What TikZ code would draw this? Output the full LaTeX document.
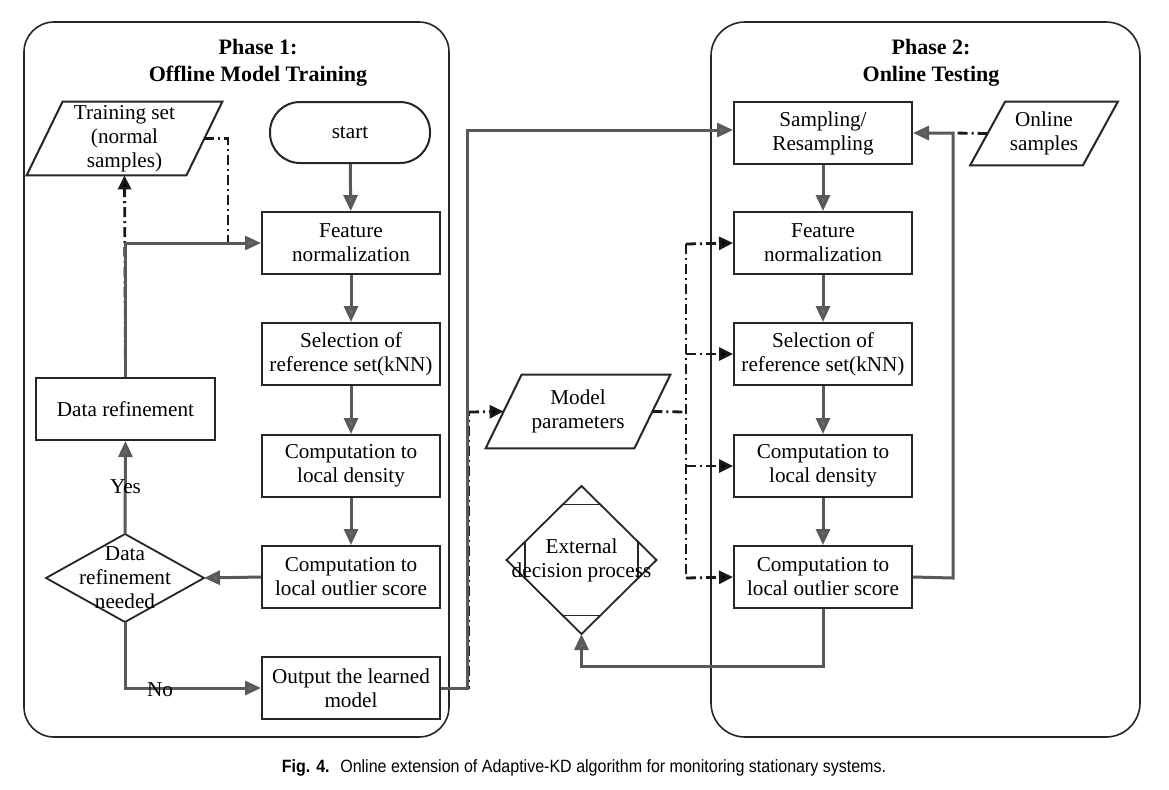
\documentclass[tikz,border=0pt]{standalone}
\usepackage{fontspec}
\setmainfont{Liberation Serif}
\newfontfamily\capfont[FakeStretch=0.9]{Liberation Sans}
\usetikzlibrary{arrows.meta,shapes.geometric,calc}
\begin{document}
\begin{tikzpicture}[x=0.5pt,y=-0.5pt,
  txt/.style={font=\fontsize{10.6}{12}\selectfont, align=center},
  box/.style={txt, draw=black!85, line width=1pt, minimum width=89pt, minimum height=31pt, inner sep=0pt, fill=white},
  pbox/.style={txt, draw=none, inner sep=0pt, minimum height=36.5pt},
  panel/.style={draw=black!85, line width=0.8pt},
  dmd/.style={diamond, draw=black!85, line width=0.9pt, inner sep=0pt, outer sep=0pt, fill=white},
  flow/.style={draw=black!65, line width=1.5pt, -{Triangle[length=8pt,width=7pt,fill=black!60]}},
  dd/.style={draw=black!90, line width=1.4pt, dash pattern=on 5pt off 2pt on 1pt off 2pt},
  dda/.style={dd, -{Triangle[length=7pt,width=6.5pt,fill=black]}},
  head/.style={font=\bfseries\fontsize{11}{13.5}\selectfont, align=center},
  lbl/.style={txt, inner sep=0pt}
]
\useasboundingbox (0,0) rectangle (1169,789);
\fill[white] (0,0) rectangle (1169,789);

% panels
\draw[panel, rounded corners=15pt] (24,22) rectangle (449,737);
\draw[panel, rounded corners=17pt] (711,22) rectangle (1140,737);
\node[head] (h1) at (258,63) {Phase 1:\\Offline Model Training};
\node[head] (h2) at (931,63) {Phase 2:\\Online Testing};

% coordinates for connector bends
\coordinate (tsb) at (228,243);
\coordinate (lb1) at (467,688);
\coordinate (lb2) at (467,130);
\coordinate (lc1) at (469,688);
\coordinate (lc2) at (469,412);
\coordinate (b1) at (686,244);
\coordinate (b2) at (686,354);
\coordinate (b3) at (686,466);
\coordinate (b4) at (686,578);
\coordinate (bm) at (686,412);
\coordinate (rb) at (953,578);
\coordinate (rb2) at (953,133);
\coordinate (eb) at (823,666);

% left column nodes
\node[box, minimum width=80pt, minimum height=30.5pt, rounded corners=15pt] (st) at (350,132.5) {start};
\node[box] (f1) at (351,243) {Feature\\normalization};
\node[box] (s1) at (351,354) {Selection of\\reference set(kNN)};
\node[box] (d1) at (351,466) {Computation to\\local density};
\node[box] (o1) at (351,577) {Computation to\\local outlier score};
\node[box] (om) at (351,688) {Output the learned\\model};
\node[box, minimum width=89.5pt] (dr) at (125.5,409) {Data refinement};
\node[dmd, minimum width=79pt, minimum height=44pt] (dec) at (125,578) {};
\node[lbl] (dect) at (125,578) {Data\\refinement\\needed};

% training set parallelogram
\node[pbox, minimum width=79.5pt] (ts) at (124.5,138.5) {Training set\\(normal\\samples)};
\draw[line width=1pt, draw=black!85] ($(ts.north west)+(18,0)$) -- ($(ts.north east)+(18,0)$) -- ($(ts.south east)+(-18,0)$) -- ($(ts.south west)+(-18,0)$) -- cycle;

% right column nodes
\node[box] (sa) at (823,133) {Sampling/\\Resampling};
\node[box] (f2) at (823,243) {Feature\\normalization};
\node[box] (s2) at (823,354) {Selection of\\reference set(kNN)};
\node[box] (d2) at (823,466) {Computation to\\local density};
\node[box] (o2) at (823,577) {Computation to\\local outlier score};

% online samples parallelogram
\node[pbox, minimum width=56pt, minimum height=31.5pt] (os) at (1044,133.5) {Online\\samples};
\draw[line width=1pt, draw=black!85] ($(os.north west)+(17.5,0)$) -- ($(os.north east)+(17.5,0)$) -- ($(os.south east)+(-17.5,0)$) -- ($(os.south west)+(-17.5,0)$) -- cycle;

% model parameters parallelogram
\node[pbox, minimum width=74pt] (mp) at (578,411.5) {Model\\parameters};
\draw[line width=1pt, draw=black!85] ($(mp.north west)+(18,0)$) -- ($(mp.north east)+(18,0)$) -- ($(mp.south east)+(-18,0)$) -- ($(mp.south west)+(-18,0)$) -- cycle;

% external decision process
\node[dmd, minimum width=75pt, minimum height=74pt] (ext) at (581.5,560) {};
\draw[line width=0.9pt, draw=black!85]
  ($(ext.north)!0.25!(ext.west)$) -- ($(ext.north)!0.25!(ext.east)$)
  ($(ext.south)!0.25!(ext.west)$) -- ($(ext.south)!0.25!(ext.east)$)
  ($(ext.west)!0.25!(ext.north)$) -- ($(ext.west)!0.25!(ext.south)$)
  ($(ext.east)!0.25!(ext.north)$) -- ($(ext.east)!0.25!(ext.south)$);
\node[lbl] (extt) at (581.5,560) {External\\decision process};

% left flow
\draw[flow] (st) -- (f1);
\draw[flow] (f1) -- (s1);
\draw[flow] (s1) -- (d1);
\draw[flow] (d1) -- (o1);
\draw[flow] (o1.west) -- (dec.east);
\draw[flow] (dec.north) -- (dr.south);
\draw[flow] (dec.south) |- (om.west);
\draw[dd] (ts.east) -| (tsb);
\draw[dda] (dr.north) -- (ts.south);
\draw[flow] (dr.north) |- (f1.west);
\node[lbl] (yes) at (125.5,487) {Yes};
\node[lbl] (no) at (160,690) {No};

% between phases
\draw[dd] (om.east) -- (lc1) -- (lc2);
\draw[dda] (lc2) -- (mp.west);
\draw[flow] (om.east) -- (lb1) -- (lb2) -- (sa.west |- lb2);
\draw[dd] (mp.east) -- (bm);
\draw[dd] (b1) -- (b4);
\draw[dda] (b1) -- (f2.west);
\draw[dda] (b2) -- (s2.west);
\draw[dda] (b3) -- (d2.west);
\draw[dda] (b4) -- (o2.west);

% right flow
\draw[flow] (sa) -- (f2);
\draw[flow] (f2) -- (s2);
\draw[flow] (s2) -- (d2);
\draw[flow] (d2) -- (o2);
\draw[dd] (os.west) -- (rb2);
\draw[flow] (o2.east) -- (rb) -- (rb2) -- (sa.east);
\draw[flow] (o2.south) -- (eb) -| (ext.south);

% caption
\node[font=\capfont\fontsize{8.9}{10}\selectfont, inner sep=0pt] (cap) at (584,768) {\textbf{Fig. 4.}\hspace{0.6em}Online extension of Adaptive-KD algorithm for monitoring stationary systems.};
\end{tikzpicture}
\end{document}
